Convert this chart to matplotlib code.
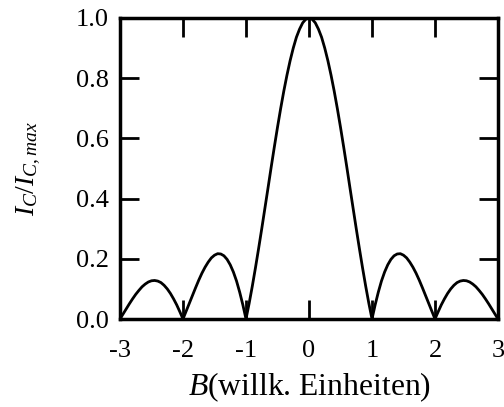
import matplotlib
matplotlib.use("Agg")
import matplotlib.pyplot as plt

# Field values (B >= 0) and normalised critical current;
# the pattern is mirror-symmetric about B = 0
B_pos = [0.00, 0.05, 0.10, 0.15, 0.20, 0.25, 0.30, 0.35, 0.40, 0.45,
         0.50, 0.55, 0.60, 0.65, 0.70, 0.75, 0.80, 0.85, 0.90, 0.95,
         1.00, 1.05, 1.10, 1.15, 1.20, 1.25, 1.30, 1.35, 1.40, 1.45,
         1.50, 1.55, 1.60, 1.65, 1.70, 1.75, 1.80, 1.85, 1.90, 1.95,
         2.00, 2.05, 2.10, 2.15, 2.20, 2.25, 2.30, 2.35, 2.40, 2.45,
         2.50, 2.55, 2.60, 2.65, 2.70, 2.75, 2.80, 2.85, 2.90, 2.95, 3.00]
Ic_pos = [1.000, 0.996, 0.984, 0.963, 0.936, 0.900, 0.858, 0.810, 0.757, 0.699,
          0.637, 0.572, 0.505, 0.436, 0.368, 0.300, 0.234, 0.170, 0.109, 0.052,
          0.000, 0.047, 0.089, 0.126, 0.156, 0.180, 0.198, 0.210, 0.216, 0.217,
          0.212, 0.203, 0.189, 0.172, 0.152, 0.129, 0.104, 0.078, 0.052, 0.026,
          0.000, 0.024, 0.047, 0.067, 0.085, 0.100, 0.112, 0.121, 0.126, 0.128,
          0.127, 0.123, 0.116, 0.107, 0.095, 0.082, 0.067, 0.051, 0.034, 0.017, 0.000]
B = [-b for b in B_pos[:0:-1]] + B_pos
Ic = Ic_pos[:0:-1] + Ic_pos

xticks = [-3, -2, -1, 0, 1, 2, 3]
xticklabels = ["-3", "-2", "-1", "0", "1", "2", "3"]
yticks = [0.0, 0.2, 0.4, 0.6, 0.8, 1.0]
yticklabels = ["0.0", "0.2", "0.4", "0.6", "0.8", "1.0"]

plt.rcParams['font.family'] = ['Liberation Serif', 'DejaVu Serif']
plt.rcParams['mathtext.fontset'] = 'custom'
plt.rcParams['mathtext.rm'] = 'Liberation Serif'
plt.rcParams['mathtext.it'] = 'Liberation Serif:italic'

fig = plt.figure(figsize=(5.04, 4.07), dpi=100)
ax = fig.add_axes([120/504, 1 - 319/407, 378/504, 301/407])
ax.plot(B, Ic, color='black', lw=2)
ax.set_xlim(-3, 3)
ax.set_ylim(0, 1.0)
ax.set_xticks(xticks)
ax.set_xticklabels(xticklabels)
ax.set_yticks(yticks)
ax.set_yticklabels(yticklabels)
ax.tick_params(direction='in', length=14, width=2, labelsize=19,
               top=True, right=True, colors='black')
ax.tick_params(axis='x', pad=15)
ax.tick_params(axis='y', pad=8)
for s in ax.spines.values():
    s.set_linewidth(2.5)
ax.set_xlabel(r'$B$(willk. Einheiten)', fontsize=22.8, labelpad=6)
ax.set_ylabel(r'$I_C/I_{C,max}$', fontsize=20, labelpad=24)
fig.savefig('out.png', dpi=100)
